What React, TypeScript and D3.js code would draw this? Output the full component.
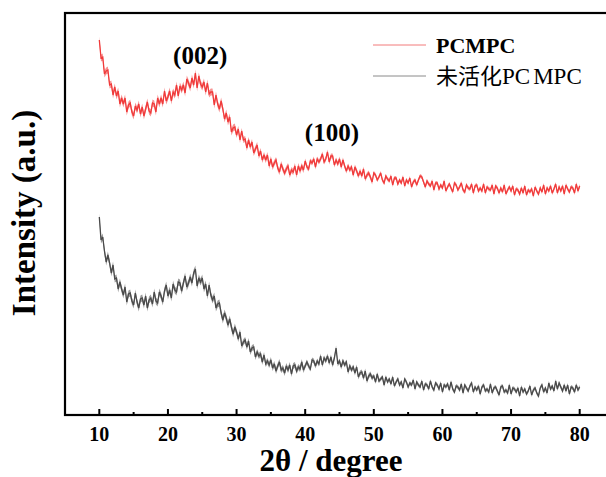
import React from "react";
import * as d3 from "d3";

// 2θ sampling of the scans (degrees)
const angleStart = 10;
const angleStep = 0.25;

// PCMPC intensity (a.u.), one row per degree: x.00, x.25, x.50, x.75
const pcmpc = [
  375, 357, 358, 341, // 10
  344, 345, 330, 331,
  320, 328, 319, 324,
  311, 317, 311, 317,
  303, 310, 312, 303,
  299, 309, 305, 311, // 15
  301, 308, 299, 306,
  313, 304, 302, 312,
  311, 303, 317, 311,
  317, 311, 324, 314,
  318, 324, 314, 323, // 20
  320, 330, 319, 329,
  325, 330, 322, 336,
  332, 327, 337, 330,
  342, 327, 339, 331,
  328, 333, 323, 332, // 25
  321, 323, 323, 310,
  320, 311, 306, 314,
  306, 296, 302, 293,
  298, 283, 287, 288,
  280, 286, 275, 284, // 30
  275, 276, 267, 275,
  268, 273, 262, 266,
  270, 259, 264, 255,
  260, 255, 260, 249,
  256, 248, 252, 255, // 35
  247, 243, 251, 246,
  242, 246, 249, 240,
  245, 243, 249, 240,
  249, 244, 249, 245,
  254, 248, 246, 254, // 40
  252, 256, 248, 256,
  253, 256, 261, 253,
  256, 263, 253, 259,
  259, 250, 255, 251,
  256, 248, 255, 249, // 45
  244, 249, 245, 248,
  240, 248, 244, 239,
  244, 239, 246, 236,
  240, 242, 238, 233,
  242, 240, 235, 238, // 50
  242, 235, 232, 239,
  236, 234, 239, 230,
  237, 237, 231, 235,
  232, 238, 229, 235,
  232, 237, 228, 233, // 55
  235, 230, 235, 239,
  238, 233, 228, 234,
  231, 229, 234, 225,
  232, 232, 226, 230,
  227, 234, 224, 228, // 60
  231, 227, 223, 232,
  230, 225, 228, 232,
  225, 223, 230, 227,
  226, 231, 222, 229,
  230, 224, 227, 224, // 65
  231, 222, 228, 226,
  225, 230, 221, 229,
  227, 222, 227, 223,
  230, 221, 225, 228,
  224, 229, 220, 226, // 70
  225, 221, 227, 222,
  229, 220, 225, 223,
  226, 219, 228, 224,
  221, 227, 223, 230,
  221, 227, 224, 229, // 75
  222, 226, 231, 222,
  228, 224, 229, 221,
  230, 226, 223, 228,
  227, 222, 231, 224,
  229, // 80
];

// 未活化PCMPC intensity (a.u.)
const unactivated = [
  198, 175, 178, 164, // 10
  153, 160, 152, 142,
  150, 136, 137, 126,
  133, 126, 120, 128,
  113, 121, 122, 114,
  110, 122, 113, 107, // 15
  116, 117, 110, 119,
  107, 115, 117, 111,
  123, 114, 112, 123,
  119, 113, 124, 130,
  119, 125, 117, 131, // 20
  125, 123, 133, 132,
  124, 132, 139, 128,
  132, 138, 132, 142,
  146, 129, 137, 133,
  137, 126, 131, 119, // 25
  130, 120, 115, 119,
  107, 111, 112, 102,
  95, 102, 97, 90,
  96, 88, 81, 88,
  83, 76, 83, 69, // 30
  73, 75, 68, 74,
  63, 67, 68, 58,
  63, 59, 61, 53,
  60, 51, 54, 50,
  55, 47, 51, 44, // 35
  49, 53, 45, 47,
  42, 49, 45, 50,
  41, 49, 50, 44,
  48, 46, 53, 45,
  49, 53, 49, 46, // 40
  55, 54, 49, 54,
  51, 59, 50, 57,
  54, 59, 52, 58,
  50, 57, 67, 51,
  54, 48, 54, 50, // 45
  53, 43, 49, 45,
  48, 42, 48, 38,
  42, 43, 37, 44,
  34, 39, 41, 37,
  39, 33, 41, 34, // 50
  36, 38, 30, 38,
  33, 36, 31, 38,
  29, 33, 36, 30,
  33, 27, 36, 33,
  28, 32, 30, 35, // 55
  26, 33, 30, 28,
  34, 25, 31, 30,
  26, 34, 28, 25,
  32, 30, 26, 32,
  23, 30, 28, 31, // 60
  25, 33, 26, 23,
  29, 28, 25, 31,
  22, 30, 27, 24,
  29, 32, 23, 28,
  25, 29, 21, 28, // 65
  30, 24, 26, 23,
  31, 22, 27, 28,
  24, 20, 28, 29,
  23, 25, 22, 30,
  21, 27, 26, 23, // 70
  27, 19, 28, 23,
  26, 21, 24, 29,
  20, 25, 27, 22,
  19, 27, 30, 23,
  27, 22, 32, 26, // 75
  29, 24, 34, 26,
  32, 28, 24, 30,
  24, 30, 21, 28,
  27, 23, 30, 25,
  28, // 80
];

// half-width of the dense noise band (a.u.), per 10° range starting at these angles
const noiseBreaks = [20, 30, 40, 50, 60, 70];
const pcmpcNoise = [3.5, 3.5, 3, 2.5, 2, 2, 2];
const unactivatedNoise = [3.5, 3.5, 3, 2.5, 2, 2, 2];

const seriesColors = ["#f03a3a", "#4a4a4a"];
const legendColors = ["#f27a7a", "#8a8a8a"];
const xTicksMajor = [10, 20, 30, 40, 50, 60, 70, 80];
const xTicksMinor = [15, 25, 35, 45, 55, 65, 75];
const peakLabels = ["(002)", "(100)"];
const peakAngles = [24.7, 43.9];
const peakLevels = [351, 274];

const W = 606;
const H = 477;
const left = 65;
const top = 13;
const right = 614;
const bottom = 415;

const serif = "Liberation Serif";
const cjk = "Noto Sans CJK SC";

type Pt = { a: number; v: number; n: number };

export default function App() {
  const x = d3.scaleLinear().domain([5, 85]).range([left, right]);
  const y = d3.scaleLinear().domain([0, bottom - top]).range([bottom, top]);

  const toPoints = (vals: number[], noise: number[]): Pt[] => {
    const thr = d3.scaleThreshold<number, number>().domain(noiseBreaks).range(noise);
    return vals.map((v, i) => {
      const a = angleStart + i * angleStep;
      return { a, v, n: thr(a) };
    });
  };

  const line = d3
    .line<Pt>()
    .x((d) => x(d.a))
    .y((d) => y(d.v));
  const band = d3
    .area<Pt>()
    .x((d) => x(d.a))
    .y0((d) => y(d.v - d.n))
    .y1((d) => y(d.v + d.n));

  const series = [
    toPoints(pcmpc, pcmpcNoise),
    toPoints(unactivated, unactivatedNoise),
  ];
  const boldSerif = { fontFamily: serif, fontWeight: 700 } as const;

  return (
    <svg
      width={W}
      height={H}
      style={{ position: "absolute", left: 0, top: 0, background: "#fff" }}
    >
      <rect x={0} y={0} width={W} height={H} fill="#fff" />
      {series.map((s, i) => (
        <g key={i}>
          <path d={band(s) || ""} fill={seriesColors[i]} fillOpacity={0.55} />
          <path
            d={line(s) || ""}
            fill="none"
            stroke={seriesColors[i]}
            strokeWidth={1.3}
            strokeLinejoin="miter"
            strokeMiterlimit={3}
          />
        </g>
      ))}
      <rect
        x={left}
        y={top}
        width={right - left}
        height={bottom - top}
        fill="none"
        stroke="#000"
        strokeWidth={2.2}
      />
      {xTicksMajor.map((t) => (
        <line
          key={"M" + t}
          x1={x(t)}
          x2={x(t)}
          y1={bottom}
          y2={bottom - 6}
          stroke="#000"
          strokeWidth={2}
        />
      ))}
      {xTicksMinor.map((t) => (
        <line
          key={"m" + t}
          x1={x(t)}
          x2={x(t)}
          y1={bottom}
          y2={bottom - 3}
          stroke="#000"
          strokeWidth={2}
        />
      ))}
      {xTicksMajor.map((t) => (
        <text
          key={"L" + t}
          x={x(t)}
          y={441}
          textAnchor="middle"
          style={{ ...boldSerif, fontSize: 20 }}
        >
          {t}
        </text>
      ))}
      <text
        x={331}
        y={471}
        textAnchor="middle"
        style={{ ...boldSerif, fontSize: 31 }}
      >
        2θ / degree
      </text>
      <text
        transform={`translate(35, 213) rotate(-90)`}
        textAnchor="middle"
        style={{ ...boldSerif, fontSize: 33 }}
      >
        Intensity (a.u.)
      </text>
      {peakLabels.map((p, i) => (
        <text
          key={p}
          x={x(peakAngles[i])}
          y={y(peakLevels[i])}
          textAnchor="middle"
          style={{ ...boldSerif, fontSize: 25 }}
        >
          {p}
        </text>
      ))}
      <line x1={373} x2={426} y1={45} y2={45} stroke={legendColors[0]} strokeWidth={1} />
      <text x={436} y={53} style={{ ...boldSerif, fontSize: 22 }}>
        PCMPC
      </text>
      <line x1={373} x2={426} y1={76} y2={76} stroke={legendColors[1]} strokeWidth={1} />
      <text x={436} y={84} style={{ fontSize: 23 }}>
        <tspan style={{ fontFamily: cjk, fontWeight: 400, fontSize: 22 }}>未活化</tspan>
        <tspan style={{ fontFamily: serif, fontWeight: 400 }}>PC</tspan>
        <tspan dx={3} style={{ fontFamily: serif, fontWeight: 400 }}>MPC</tspan>
      </text>
    </svg>
  );
}
